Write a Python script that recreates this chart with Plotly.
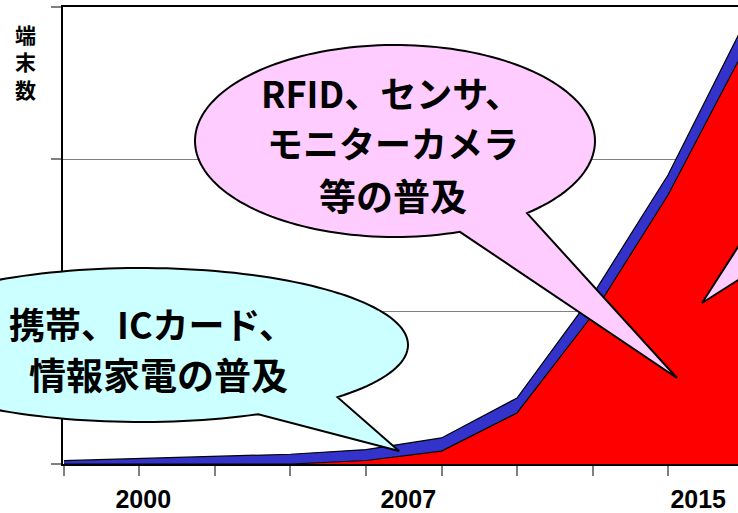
import math
import plotly.graph_objects as go

# ---- data ----
x_index = list(range(10))
red_vals = [0, 0, 0, 0, 2.3, 8.5, 33.5, 97.8, 176.6, 271.1]
blue_vals = [2.2, 3.5, 4.8, 6.4, 7.2, 8.6, 9.8, 13.1, 13.1, 17.1]
year_labels = ["2000", "2007", "2015"]
year_label_pos = [1.05, 4.56, 8.40]
y_ticks = [0, 100, 200, 300]
y_title_chars = ["端", "末", "数"]

W, H = 738, 513
L, R, T, B = 63, 738, 7, 464


def px(X):
    return (X - L) / (R - L)


def py(Y):
    return (B - Y) / (B - T)


def bubble_path(cx, cy, rx, ry, a, b, tip, n=160):
    ta = math.atan2((a[1] - cy) / ry, (a[0] - cx) / rx)
    tb = math.atan2((b[1] - cy) / ry, (b[0] - cx) / rx) - 2 * math.pi
    pts = []
    for i in range(n + 1):
        t = ta + (tb - ta) * i / n
        pts.append((cx + rx * math.cos(t), cy + ry * math.sin(t)))
    pts.append(tip)
    s = "M " + " L ".join(f"{px(X):.5f},{py(Y):.5f}" for X, Y in pts) + " Z"
    return s


fig = go.Figure()
fig.add_trace(go.Scatter(x=x_index, y=red_vals, stackgroup="s", mode="lines",
                         line=dict(color="black", width=1.2), fillcolor="#FF0000",
                         hoverinfo="skip", showlegend=False))
fig.add_trace(go.Scatter(x=x_index, y=blue_vals, stackgroup="s", mode="lines",
                         line=dict(color="black", width=1.2), fillcolor="#3333CC",
                         hoverinfo="skip", showlegend=False))

shapes = []
# third bubble tail from off-screen right
tri = [(702, 303), (790, 166), (790, 247)]
shapes.append(dict(type="path", xref="paper", yref="paper",
                   path="M " + " L ".join(f"{px(X):.5f},{py(Y):.5f}" for X, Y in tri) + " Z",
                   fillcolor="#FFCCFF", line=dict(color="black", width=2)))
# cyan bubble
shapes.append(dict(type="path", xref="paper", yref="paper",
                   path=bubble_path(141, 345, 267, 77, (337, 397), (258, 414), (399, 451)),
                   fillcolor="#CCFFFF", line=dict(color="black", width=2)))
# pink bubble
shapes.append(dict(type="path", xref="paper", yref="paper",
                   path=bubble_path(395, 141, 200, 96, (525, 212), (460, 232), (677, 378)),
                   fillcolor="#FFCCFF", line=dict(color="black", width=2)))

cjk = "Noto Sans CJK JP"
annotations = []


def txt(s, X, Y, size):
    annotations.append(dict(text=f"<b>{s}</b>", x=px(X), y=py(Y), xref="paper", yref="paper",
                            xanchor="center", yanchor="middle", showarrow=False,
                            font=dict(family=cjk, size=size, color="black")))


txt("携帯、ICカード、", 152, 323, 36)
txt("情報家電の普及", 158, 374, 37)
txt("RFID、センサ、", 391, 92, 36)
txt("モニターカメラ", 393, 142, 36)
txt("等の普及", 393, 195, 37)
txt("<br>".join(y_title_chars), 25, 62, 21)

fig.update_layout(
    width=W, height=H,
    margin=dict(l=L, r=W - R, t=T, b=H - B, autoexpand=False),
    paper_bgcolor="white", plot_bgcolor="white",
    shapes=shapes, annotations=annotations,
    xaxis=dict(range=[-0.013, 8.927], showgrid=False, zeroline=False, automargin=False,
               showline=True, linecolor="black", linewidth=1.5, mirror=True,
               tickmode="array", tickvals=year_label_pos,
               ticktext=[f"<b>{t}</b>" for t in year_labels],
               ticks="outside", ticklen=12, tickcolor="rgba(0,0,0,0)",
               tickfont=dict(family="Liberation Sans", size=25, color="black"),
               minor=dict(tickmode="array", tickvals=x_index, ticks="outside",
                          ticklen=10, tickcolor="#808080", tickwidth=1.5, showgrid=False)),
    yaxis=dict(range=[0, 300], tickmode="array", tickvals=y_ticks, showticklabels=False,
               automargin=False,
               ticks="outside", ticklen=10, tickcolor="#808080", tickwidth=1.5,
               showgrid=True, gridcolor="#808080", gridwidth=1, zeroline=False,
               showline=True, linecolor="black", linewidth=1.5),
)

fig.write_html("out.html")
